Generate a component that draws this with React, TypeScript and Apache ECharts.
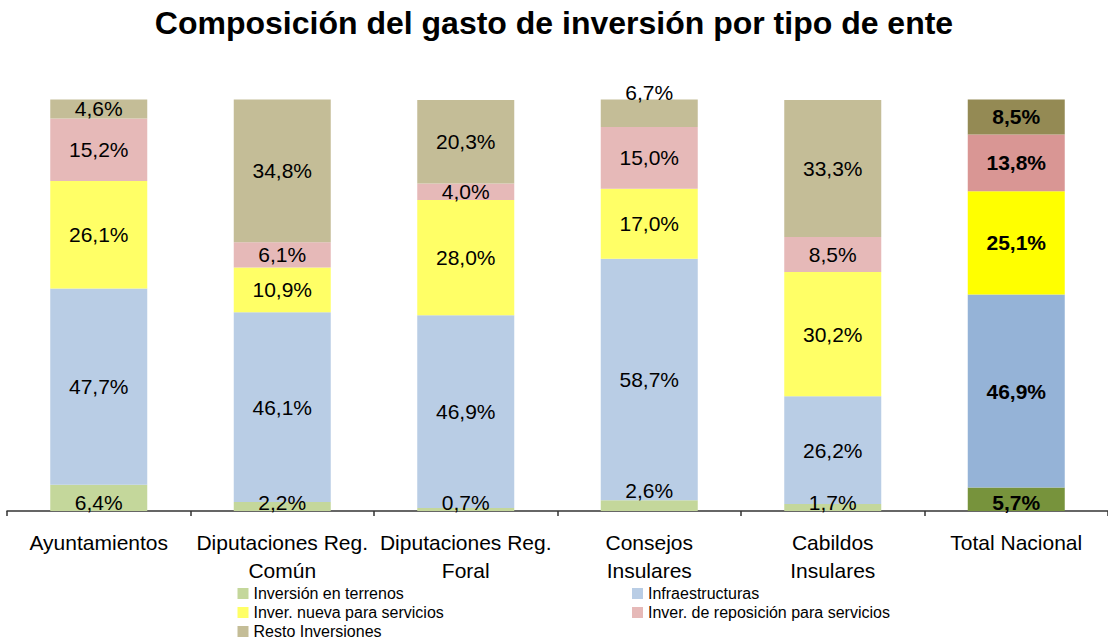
import React, { useEffect, useRef } from "react";
import * as echarts from "echarts";

const categories = [
  "Ayuntamientos",
  "Diputaciones Reg.\nComún",
  "Diputaciones Reg.\nForal",
  "Consejos\nInsulares",
  "Cabildos\nInsulares",
  "Total Nacional",
];
const seriesNames = [
  "Inversión en terrenos",
  "Infraestructuras",
  "Inver. nueva para servicios",
  "Inver. de reposición para servicios",
  "Resto Inversiones",
];
const terrenos = [6.4, 2.2, 0.7, 2.6, 1.7, 5.7];
const infraestructuras = [47.7, 46.1, 46.9, 58.7, 26.2, 46.9];
const nueva = [26.1, 10.9, 28.0, 17.0, 30.2, 25.1];
const reposicion = [15.2, 6.1, 4.0, 15.0, 8.5, 13.8];
const resto = [4.6, 34.8, 20.3, 6.7, 33.3, 8.5];
const seriesValues = [terrenos, infraestructuras, nueva, reposicion, resto];

const lightColors = ["#C4D79B", "#B9CDE5", "#FFFF66", "#E6B9B8", "#C4BD97"];
const totalColors = ["#77933C", "#95B3D7", "#FFFF00", "#D99694", "#948A54"];

const FONT = "'Liberation Sans', Arial, sans-serif";
const TOTAL_INDEX = 5;

const fmt = (v: number) => v.toFixed(1).replace(".", ",") + "%";

export default function App() {
  const ref = useRef<HTMLDivElement>(null);

  useEffect(() => {
    document.body.style.margin = "0";
    if (!ref.current) return;
    const chart = echarts.init(ref.current, undefined, { renderer: "svg" });

    const series = seriesValues.map((vals, s) => ({
      name: seriesNames[s],
      type: "bar",
      stack: "total",
      barWidth: 97,
      itemStyle: { color: lightColors[s] },
      label: {
        show: true,
        position: s === 0 ? "insideBottom" : "inside",
        distance: s === 0 ? -1 : 5,
        formatter: (p: any) => fmt(p.value),
        fontFamily: FONT,
        fontSize: 21,
        lineHeight: 20,
        color: "#000",
      },
      data: vals.map((v, i) => {
        const item: any = { value: v };
        const label: any = {};
        if (i === TOTAL_INDEX) {
          item.itemStyle = { color: totalColors[s] };
          label.fontWeight = "bold";
        }
        if (s === 0 && i === 3) label.offset = [0, -12];
        if (s === 4 && i === 3) {
          label.position = "top";
          label.distance = -3;
        }
        item.label = label;
        return item;
      }),
    }));

    const legendCommon = {
      orient: "vertical",
      top: 584.5,
      itemWidth: 11,
      itemHeight: 11,
      itemGap: 1,
      icon: "rect",
      selectedMode: false,
      padding: 0,
      textStyle: { fontFamily: FONT, fontSize: 16, color: "#000", lineHeight: 18 },
    };

    chart.setOption({
      animation: false,
      title: {
        text: "Composición del gasto de inversión por tipo de ente",
        left: "center",
        top: 4,
        padding: 0,
        textStyle: {
          fontFamily: FONT,
          fontSize: 32,
          fontWeight: "bold",
          color: "#000",
          lineHeight: 38,
        },
      },
      legend: [
        { ...legendCommon, left: 237.5, data: [seriesNames[0], seriesNames[2], seriesNames[4]] },
        { ...legendCommon, left: 632, data: [seriesNames[1], seriesNames[3]] },
      ],
      grid: { left: 7, right: -13, top: 99.5, bottom: 130, containLabel: false },
      xAxis: {
        type: "category",
        data: categories,
        boundaryGap: true,
        axisLine: { show: true, lineStyle: { color: "#333", width: 1.5 } },
        axisTick: { show: true, length: 5, lineStyle: { color: "#333", width: 1.5 } },
        axisLabel: {
          interval: 0,
          margin: 17,
          fontFamily: FONT,
          fontSize: 21,
          lineHeight: 28,
          color: "#000",
        },
      },
      yAxis: {
        type: "value",
        min: 0,
        max: 100,
        show: false,
        splitLine: { show: false },
      },
      series,
    });

    return () => chart.dispose();
  }, []);

  return <div ref={ref} style={{ width: 1108, height: 641 }} />;
}
